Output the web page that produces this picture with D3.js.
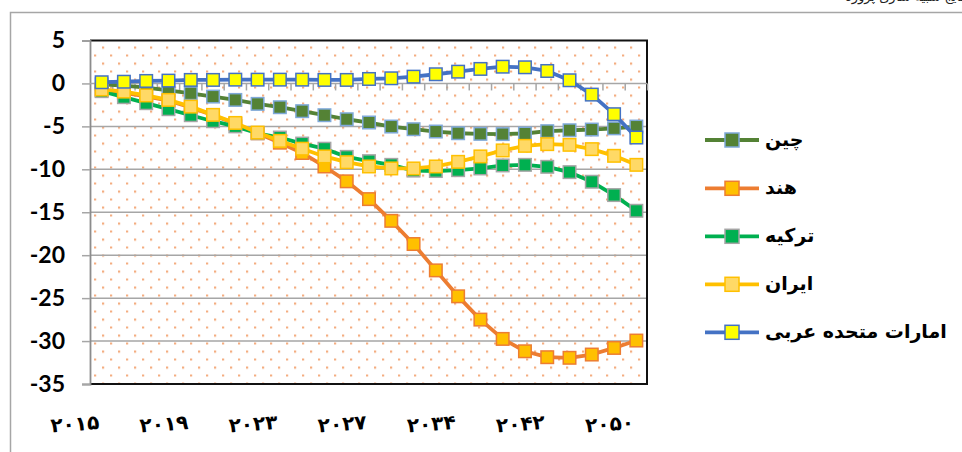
<!DOCTYPE html>
<html>
<head>
<meta charset="utf-8">
<script src="https://cdn.jsdelivr.net/npm/d3@7/dist/d3.min.js"></script>
<style>
  html, body { margin: 0; padding: 0; background: #fff; }
  svg { display: block; }
</style>
</head>
<body>
<svg id="chart" width="962" height="452"></svg>
<script>
// Years on the category axis (annual to 2028, then every two years)
const years = [2015, 2016, 2017, 2018, 2019, 2020, 2021, 2022, 2023, 2024, 2025, 2026, 2027,
               2028, 2030, 2032, 2034, 2036, 2038, 2040, 2042, 2044, 2046, 2048, 2050];

// Labelled years and their Persian-digit labels
const tickYears  = [2015, 2019, 2023, 2027, 2034, 2042, 2050];
const tickLabels = ["۲۰۱۵", "۲۰۱۹", "۲۰۲۳", "۲۰۲۷", "۲۰۳۴", "۲۰۴۲", "۲۰۵۰"];

// Value-axis ticks
const yTicks = [5, 0, -5, -10, -15, -20, -25, -30, -35];

// Series names (legend order)
const seriesNames = ["چین", "هند", "ترکیه", "ایران", "امارات متحده عربی"];

// Series values, one per year
const china  = [-0.1, -0.25, -0.5, -0.8, -1.15, -1.53, -1.92, -2.38, -2.77, -3.23, -3.7, -4.17, -4.55,
                -5.02, -5.33, -5.6, -5.8, -5.87, -5.9, -5.83, -5.56, -5.45, -5.37, -5.23, -5.02];
const india  = [-0.8, -1.1, -1.5, -2.0, -2.8, -3.7, -4.7, -5.8, -6.9, -8.1, -9.67, -11.4, -13.47,
                -16.0, -18.7, -21.77, -24.79, -27.5, -29.75, -31.19, -31.88, -31.95, -31.57, -30.8, -29.94];
const turkey = [-0.9, -1.6, -2.3, -3.0, -3.7, -4.4, -5.0, -5.8, -6.3, -7.0, -7.6, -8.55, -9.05,
                -9.48, -10.15, -10.2, -10.1, -9.9, -9.55, -9.48, -9.71, -10.33, -11.45, -13.0, -14.83];
const iran   = [-0.7, -0.95, -1.4, -1.92, -2.7, -3.66, -4.6, -5.72, -6.69, -7.6, -8.5, -9.17, -9.67,
                -9.9, -9.9, -9.67, -9.13, -8.5, -7.8, -7.27, -7.07, -7.15, -7.65, -8.43, -9.48];
const uae    = [0.14, 0.2, 0.29, 0.33, 0.41, 0.41, 0.44, 0.44, 0.44, 0.44, 0.41, 0.41, 0.52,
                0.6, 0.79, 1.07, 1.37, 1.69, 1.95, 1.88, 1.45, 0.37, -1.3, -3.58, -6.3];

// Styling per series: line colour, marker fill, marker outline
const seriesStyles = [
  { line: "#548235", fill: "#548235", edge: "#7fa9d9" },
  { line: "#ed7d31", fill: "#ffc000", edge: "#ed7d31" },
  { line: "#00b050", fill: "#00b050", edge: "#a5a5a5" },
  { line: "#ffc000", fill: "#ffd966", edge: "#ffc000" },
  { line: "#4472c4", fill: "#ffff00", edge: "#4472c4" }
];

const seriesValues = [china, india, turkey, iran, uae];
const series = seriesNames.map((name, k) => ({
  name,
  style: seriesStyles[k],
  points: years.map((yr, i) => ({ year: yr, value: seriesValues[k][i] }))
}));

const svg = d3.select("#chart");

const plot = { left: 90, right: 647, top: 40.5, bottom: 384 };

const x = d3.scaleBand().domain(years).range([plot.left + 0.5, plot.right + 0.5]);
const y = d3.scaleLinear().domain([-35, 5]).range([plot.bottom, plot.top]);
const xc = d => x(d) + x.bandwidth() / 2;

// Outer chart frame
svg.append("path")
  .attr("d", "M10.5,460 L10.5,12.5 L970,12.5")
  .attr("fill", "none").attr("stroke", "#a6a6a6").attr("stroke-width", 1.5);

// Caption above the frame, running off the top edge of the page
svg.append("text")
  .attr("x", 968).attr("y", 1)
  .attr("direction", "rtl")
  .attr("text-anchor", "start")
  .attr("font-family", "DejaVu Sans")
  .attr("font-size", 13)
  .attr("fill", "#222")
  .text("نتایج شبیه سازی پروژه");

// Dotted fill of the plot area
const defs = svg.append("defs");
const pat = defs.append("pattern")
  .attr("id", "dots")
  .attr("patternUnits", "userSpaceOnUse")
  .attr("x", plot.left).attr("y", plot.top)
  .attr("width", 16).attr("height", 16);
pat.append("rect").attr("width", 16).attr("height", 16).attr("fill", "#fff");
pat.append("rect").attr("x", 4).attr("y", 14).attr("width", 2.2).attr("height", 2.2).attr("fill", "#f4ad80");
pat.append("rect").attr("x", 12).attr("y", 6).attr("width", 2.2).attr("height", 2.2).attr("fill", "#f4ad80");

svg.append("rect")
  .attr("x", plot.left).attr("y", plot.top)
  .attr("width", plot.right - plot.left).attr("height", plot.bottom - plot.top)
  .attr("fill", "url(#dots)");

// Horizontal gridlines
svg.append("g")
  .selectAll("line")
  .data(yTicks.filter(t => t < 0 && t > -35))
  .join("line")
  .attr("x1", plot.left).attr("x2", plot.right)
  .attr("y1", d => y(d)).attr("y2", d => y(d))
  .attr("stroke", "#a6a6a6").attr("stroke-width", 1.5);

// Plot-area border (top, right, bottom)
svg.append("path")
  .attr("d", `M${plot.left},${y(5)} L${plot.right},${y(5)} L${plot.right},${y(-35)} L${plot.left},${y(-35)}`)
  .attr("fill", "none").attr("stroke", "#111").attr("stroke-width", 2);

// Value axis
const yAxis = d3.axisLeft(y).tickValues(yTicks).tickSize(8).tickPadding(17).tickFormat(d3.format("d"));
const gy = svg.append("g").attr("transform", `translate(${plot.left},0)`).call(yAxis);
gy.select(".domain").attr("stroke", "#8c8c8c").attr("stroke-width", 1.8);
gy.selectAll(".tick line").attr("stroke", "#a6a6a6").attr("stroke-width", 1.5);
gy.selectAll(".tick text")
  .attr("font-family", "Lato, 'DejaVu Sans', sans-serif")
  .attr("font-weight", "bold")
  .attr("font-size", 23)
  .attr("fill", "#000")
  .text(d => d3.format("d")(d).replace("−", "-"));

// Category axis along the zero line, ticks between categories
const boundaries = years.map(d => x(d)).concat([x(years[years.length - 1]) + x.bandwidth()]);
const gx = svg.append("g");
gx.append("line")
  .attr("x1", plot.left).attr("x2", plot.right)
  .attr("y1", y(0)).attr("y2", y(0))
  .attr("stroke", "#a6a6a6").attr("stroke-width", 1.5);
gx.selectAll("line.tk")
  .data(boundaries.slice(1))
  .join("line").attr("class", "tk")
  .attr("x1", d => d).attr("x2", d => d)
  .attr("y1", y(0)).attr("y2", y(0) + 7)
  .attr("stroke", "#a6a6a6").attr("stroke-width", 1.5);

// Year labels below the plot, slightly tilted
svg.append("g")
  .selectAll("text")
  .data(tickYears)
  .join("text")
  .attr("transform", d => `translate(${xc(d) - 2},429) rotate(-4)`)
  .attr("text-anchor", "end")
  .attr("font-family", "'DejaVu Sans', sans-serif")
  .attr("font-weight", "bold")
  .attr("font-size", 20)
  .attr("letter-spacing", 3.5)
  .attr("fill", "#000")
  .text((d, i) => tickLabels[i]);

// Series lines and square markers
const line = d3.line().x(d => xc(d.year)).y(d => y(d.value));
const mk = 12.5;

const gs = svg.append("g").selectAll("g").data(series).join("g");
gs.append("path")
  .attr("d", d => line(d.points))
  .attr("fill", "none")
  .attr("stroke", d => d.style.line)
  .attr("stroke-width", 3.8)
  .attr("stroke-linejoin", "round");
gs.each(function (s) {
  d3.select(this).selectAll("rect")
    .data(s.points)
    .join("rect")
    .attr("x", d => xc(d.year) - mk / 2)
    .attr("y", d => y(d.value) - mk / 2)
    .attr("width", mk).attr("height", mk)
    .attr("fill", s.style.fill)
    .attr("stroke", s.style.edge)
    .attr("stroke-width", 1.5);
});

// Legend
const legendY = [140, 188.3, 236.3, 284.3, 332.3];
const lg = svg.append("g").selectAll("g").data(series).join("g")
  .attr("transform", (d, i) => `translate(0,${legendY[i]})`);
lg.append("line")
  .attr("x1", 705).attr("x2", 759).attr("y1", 0).attr("y2", 0)
  .attr("stroke", d => d.style.line).attr("stroke-width", 3.8);
lg.append("rect")
  .attr("x", 732 - 7).attr("y", -7).attr("width", 14).attr("height", 14)
  .attr("fill", d => d.style.fill).attr("stroke", d => d.style.edge).attr("stroke-width", 1.5);
lg.append("text")
  .attr("x", 765).attr("y", 6)
  .attr("text-anchor", "start")
  .attr("font-family", "'DejaVu Sans', sans-serif")
  .attr("font-weight", "bold")
  .attr("font-size", 19)
  .attr("fill", "#000")
  .text(d => d.name);
</script>
</body>
</html>
